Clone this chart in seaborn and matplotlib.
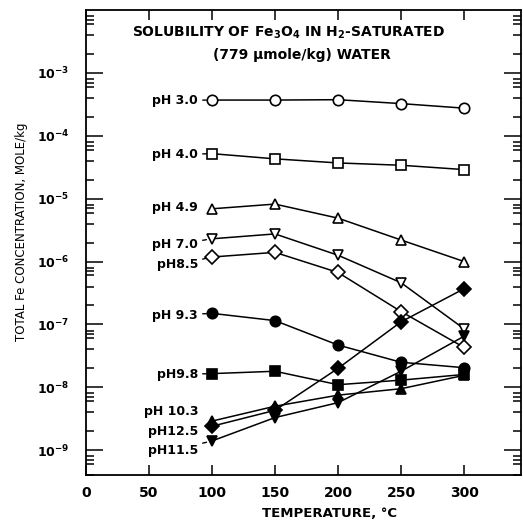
import numpy as np
import pandas as pd
import seaborn as sns
import matplotlib.pyplot as plt
import matplotlib.ticker as mtick

# temperature, deg C
temps = [100, 150, 200, 250, 300]

# total Fe concentration, mole/kg
ph_3_0 = [3.7e-4, 3.7e-4, 3.75e-4, 3.25e-4, 2.75e-4]
ph_4_0 = [5.2e-5, 4.3e-5, 3.7e-5, 3.4e-5, 2.9e-5]
ph_4_9 = [6.9e-6, 8.2e-6, 4.9e-6, 2.2e-6, 1.0e-6]
ph_7_0 = [2.3e-6, 2.75e-6, 1.26e-6, 4.6e-7, 8.5e-8]
ph_8_5 = [1.18e-6, 1.4e-6, 6.7e-7, 1.6e-7, 4.3e-8]
ph_9_3 = [1.5e-7, 1.15e-7, 4.7e-8, 2.5e-8, 2.05e-8]
ph_9_8 = [1.65e-8, 1.8e-8, 1.1e-8, 1.3e-8, 1.6e-8]
ph_10_3 = [2.9e-9, 5.0e-9, 7.5e-9, 9.5e-9, 1.55e-8]
ph_12_5 = [2.4e-9, 4.3e-9, 2.0e-8, 1.1e-7, 3.7e-7]
ph_11_5 = [1.4e-9, 3.3e-9, 5.7e-9, 1.8e-8, 6.5e-8]

series_names = ["pH 3.0", "pH 4.0", "pH 4.9", "pH 7.0", "pH8.5",
                "pH 9.3", "pH9.8", "pH 10.3", "pH12.5", "pH11.5"]
series_vals = [ph_3_0, ph_4_0, ph_4_9, ph_7_0, ph_8_5,
               ph_9_3, ph_9_8, ph_10_3, ph_12_5, ph_11_5]

x_ticks = [0, 50, 100, 150, 200, 250, 300]
y_ticks = [1e-9, 1e-8, 1e-7, 1e-6, 1e-5, 1e-4, 1e-3]
y_tick_labels = ["10$^{\\mathbf{-9}}$", "10$^{\\mathbf{-8}}$", "10$^{\\mathbf{-7}}$",
                 "10$^{\\mathbf{-6}}$", "10$^{\\mathbf{-5}}$", "10$^{\\mathbf{-4}}$",
                 "10$^{\\mathbf{-3}}$"]

# marker style per series: (marker, filled)
styles = {
    "pH 3.0": ("o", False), "pH 4.0": ("s", False), "pH 4.9": ("^", False),
    "pH 7.0": ("v", False), "pH8.5": ("D", False), "pH 9.3": ("o", True),
    "pH9.8": ("s", True), "pH 10.3": ("^", True), "pH12.5": ("D", True),
    "pH11.5": ("v", True),
}
# label y position, and whether a leader line goes to the first point
label_pos = {
    "pH 3.0": (3.67e-4, True), "pH 4.0": (5.0e-5, True), "pH 4.9": (7.2e-6, False),
    "pH 7.0": (1.85e-6, True), "pH8.5": (8.9e-7, True), "pH 9.3": (1.4e-7, True),
    "pH9.8": (1.6e-8, True), "pH 10.3": (4.1e-9, False), "pH12.5": (1.95e-9, False),
    "pH11.5": (1.0e-9, True),
}

df = pd.DataFrame({
    "temp": temps * len(series_names),
    "conc": np.concatenate(series_vals),
    "series": np.repeat(series_names, len(temps)),
})

sns.set_theme(style="ticks")
plt.rcParams['font.family'] = ['DejaVu Sans']
plt.rcParams['mathtext.default'] = 'bf'
for key in ['text.color', 'axes.labelcolor', 'xtick.color', 'ytick.color', 'axes.edgecolor']:
    plt.rcParams[key] = 'black'

fig = plt.figure(figsize=(5.23, 5.28), dpi=100)
ax = fig.add_axes([0.164, 0.100, 0.832, 0.881])

for name in series_names:
    m, filled = styles[name]
    sub = df[df["series"] == name]
    ms = 7 if m == "D" else 7.5
    sns.lineplot(data=sub, x="temp", y="conc", ax=ax, color="black", lw=1.1,
                 marker=m, markersize=ms, markeredgewidth=1.2,
                 markeredgecolor="black",
                 markerfacecolor="black" if filled else "white",
                 legend=False)

ax.set_yscale("log")
ax.set_xlim(0, 345)
ax.set_ylim(4e-10, 1e-2)

# labels on the left of each curve
for name, vals in zip(series_names, series_vals):
    ly, leader = label_pos[name]
    if leader:
        ax.annotate(name, xy=(100, vals[0]), xytext=(89, ly), ha="right", va="center",
                    fontsize=9, fontweight="bold",
                    arrowprops=dict(arrowstyle="-", color="black", lw=1.0,
                                    shrinkA=1, shrinkB=4))
    else:
        ax.text(89, ly, name, ha="right", va="center", fontsize=9, fontweight="bold")

ax.text(0.467, 0.951, "SOLUBILITY OF Fe$_3$O$_4$ IN H$_2$-SATURATED",
        transform=ax.transAxes, ha="center", va="center", fontsize=10, fontweight="bold")
ax.text(0.497, 0.904, "(779 μmole/kg) WATER",
        transform=ax.transAxes, ha="center", va="center", fontsize=10, fontweight="bold")

ax.set_xticks(x_ticks)
ax.set_xticklabels([str(t) for t in x_ticks], fontsize=10, fontweight="bold")
ax.set_yticks(y_ticks)
ax.set_yticklabels(y_tick_labels, fontsize=9, fontweight="bold")
ax.yaxis.set_minor_locator(mtick.LogLocator(base=10, subs=(2, 4, 6, 7, 8), numticks=20))
ax.yaxis.set_minor_formatter(mtick.NullFormatter())

ax.tick_params(axis="both", which="both", direction="in", top=True, right=True,
               color="black", width=1.1)
ax.tick_params(axis="y", which="major", length=12, pad=12)
ax.tick_params(axis="y", which="minor", length=6)
ax.tick_params(axis="x", which="major", length=7, pad=8)

for s in ax.spines.values():
    s.set_linewidth(1.3)
    s.set_color("black")

ax.set_xlabel("TEMPERATURE, °C", fontsize=9.5, fontweight="bold")
ax.xaxis.set_label_coords(0.561, -0.068)
ax.set_ylabel("TOTAL Fe CONCENTRATION, MOLE/kg", fontsize=8.5)
ax.yaxis.set_label_coords(-0.133, 0.523)

fig.savefig("out.png", dpi=100)
